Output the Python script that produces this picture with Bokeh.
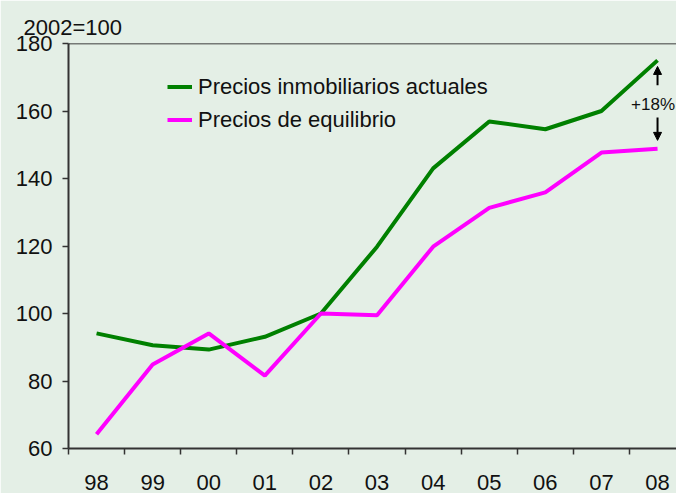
from bokeh.plotting import figure
from bokeh.models import FixedTicker, Range1d, Span, Arrow, NormalHead, Legend, LegendItem, Title
from bokeh.core.properties import value
from bokeh.embed import file_html
from bokeh.resources import INLINE

years = ["98", "99", "00", "01", "02", "03", "04", "05", "06", "07", "08"]
actual = [94.1, 90.6, 89.3, 93.1, 100.0, 119.8, 143.0, 156.9, 154.6, 160.0, 175.0]
equilibrium = [64.2, 84.9, 94.1, 81.6, 100.0, 99.5, 119.8, 131.3, 135.9, 147.7, 148.8]
y_ticks = [60, 80, 100, 120, 140, 160, 180]
series_names = ["Precios inmobiliarios actuales", "Precios de equilibrio"]
gap_label = "+18%"
unit_label = "2002=100"

BG = "#E4EFE6"
FONT = "Liberation Sans"
AXC = "#333333"

x = list(range(len(years)))

p = figure(width=676, height=493, output_backend="svg", toolbar_location=None,
           x_range=Range1d(-0.5, 10.338), y_range=Range1d(60, 180),
           min_border_left=68, min_border_right=0, min_border_top=43, min_border_bottom=45)
p.background_fill_color = BG
p.border_fill_color = BG
p.outline_line_color = None
p.grid.visible = False
p.title.text = ""

# unit label, then a spacer between it and the frame
p.add_layout(Title(text=unit_label, align="left", vertical_align="top", offset=-45, standoff=4,
                   text_font=FONT, text_font_size="22px", text_font_style="normal",
                   text_color="#111111"), "above")
p.add_layout(Title(text=" ", text_font_size="6px", text_alpha=0, standoff=2), "above")

r1 = p.line(x, actual, line_color="#008000", line_width=4)
r2 = p.line(x, equilibrium, line_color="#FF00FF", line_width=4)

# top border
p.add_layout(Span(location=180, dimension="width", line_color="black", line_width=1.5))

# y axis
p.yaxis.ticker = FixedTicker(ticks=y_ticks)
p.yaxis.major_tick_out = 6
p.yaxis.major_tick_in = 0
p.yaxis.minor_tick_out = 0
p.yaxis.minor_tick_in = 0
p.yaxis.major_label_standoff = 10
p.yaxis.axis_line_color = AXC
p.yaxis.axis_line_width = 2
p.yaxis.major_tick_line_color = AXC
p.yaxis.major_tick_line_width = 1.5
p.yaxis.major_label_text_font = FONT
p.yaxis.major_label_text_font_size = "22px"
p.yaxis.major_label_text_color = "#111111"

# x axis
p.xaxis.ticker = FixedTicker(ticks=x, minor_ticks=[i - 0.5 for i in x])
p.xaxis.major_label_overrides = {i: y for i, y in zip(x, years)}
p.xaxis.major_tick_out = 0
p.xaxis.major_tick_in = 0
p.xaxis.minor_tick_out = 6
p.xaxis.minor_tick_in = 0
p.xaxis.minor_tick_line_color = AXC
p.xaxis.minor_tick_line_width = 1.5
p.xaxis.major_label_standoff = 20
p.xaxis.axis_line_color = AXC
p.xaxis.axis_line_width = 2
p.xaxis.major_label_text_font = FONT
p.xaxis.major_label_text_font_size = "22px"
p.xaxis.major_label_text_color = "#111111"

# legend
legend = Legend(items=[LegendItem(label=series_names[0], renderers=[r1]),
                       LegendItem(label=series_names[1], renderers=[r2])],
                location=(99, 312))
legend.glyph_width = 25
legend.glyph_height = 33
legend.label_height = 33
legend.label_standoff = 6
legend.padding = 0
legend.margin = 0
legend.spacing = 0
legend.label_text_font = FONT
legend.label_text_font_size = "22px"
legend.label_text_color = "#111111"
legend.border_line_color = None
legend.background_fill_alpha = 0
p.add_layout(legend)

# gap annotation
last = len(x) - 1
mid = (actual[last] + equilibrium[last]) / 2
p.text(x=[x[last] - 0.08], y=[mid], text=[gap_label], text_font=value(FONT),
       text_font_size="17px", text_align="center", text_baseline="middle", text_color="#111111")
p.add_layout(Arrow(end=NormalHead(size=8, fill_color="black", line_color="black"),
                   x_start=x[last], y_start=actual[last] - 7.4,
                   x_end=x[last], y_end=actual[last] - 1.8,
                   line_color="black", line_width=2))
p.add_layout(Arrow(end=NormalHead(size=8, fill_color="black", line_color="black"),
                   x_start=x[last], y_start=equilibrium[last] + 9.3,
                   x_end=x[last], y_end=equilibrium[last] + 2.5,
                   line_color="black", line_width=2))

open("out.html", "w").write(file_html(p, INLINE))
